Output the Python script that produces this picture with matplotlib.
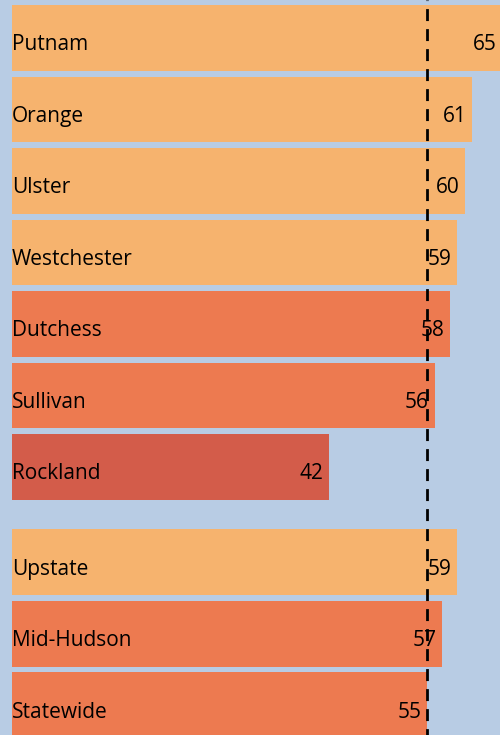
import matplotlib.pyplot as plt

counties = ['Putnam', 'Orange', 'Ulster', 'Westchester', 'Dutchess', 'Sullivan', 'Rockland',
            'Upstate', 'Mid-Hudson', 'Statewide']
values = [65, 61, 60, 59, 58, 56, 42, 59, 57, 55]
positions = [0, 1, 2, 3, 4, 5, 6, 7.333, 8.333, 9.333]
shade = ['light', 'light', 'light', 'light', 'mid', 'mid', 'dark', 'light', 'mid', 'mid']
statewide = 55

colors = {'light': '#F6B36E', 'mid': '#ED7A50', 'dark': '#D35C4A'}


def main():
    plt.rcParams['font.family'] = ['Open Sans', 'DejaVu Sans']
    fig = plt.figure(figsize=(5, 7.35), dpi=100)
    fig.patch.set_facecolor('#B8CCE4')
    ax = fig.add_axes([0, 0, 1, 1])
    ax.set_facecolor('#B8CCE4')

    ax.barh(positions, values, height=0.92, color=[colors[s] for s in shade], linewidth=0)
    ax.axvline(statewide, color='black', linestyle=(2, (4.3, 2.9)), linewidth=2)

    for p, name, v in zip(positions, counties, values):
        ax.annotate(name, (0, p), xytext=(0, -5), textcoords='offset points',
                    ha='left', va='center', fontsize=15, color='black')
        ax.annotate(str(v), (v, p), xytext=(-4, -5), textcoords='offset points',
                    ha='right', va='center', fontsize=15, color='black',
                    annotation_clip=False)

    scale = 415 / 55
    ax.set_xlim(-12 / scale, (500 - 12) / scale)
    ax.set_ylim(9.748, -0.531)
    ax.set_xticks([])
    ax.set_yticks([])
    for s in ax.spines.values():
        s.set_visible(False)

    fig.savefig('out.png', dpi=100, facecolor=fig.get_facecolor())


if __name__ == "__main__":
    main()
